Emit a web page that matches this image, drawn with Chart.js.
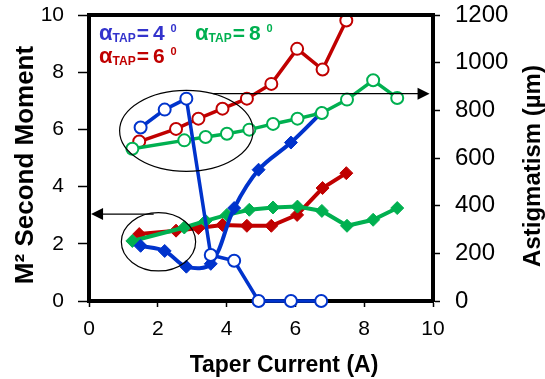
<!DOCTYPE html>
<html>
<head>
<meta charset="utf-8">
<script src="https://cdn.jsdelivr.net/npm/chart.js@4.4.1/dist/chart.umd.min.js"></script>
<style>
  html, body { margin: 0; padding: 0; background: #fff; }
</style>
</head>
<body>
<canvas id="chart" width="545" height="379"></canvas>
<script>
// taper current (A) for each series
const blueX  = [1.5, 2.2, 2.83, 3.54, 4.22, 4.93, 5.87, 6.75];
const redX   = [1.46, 2.53, 3.18, 3.88, 4.59, 5.3, 6.05, 6.79, 7.48];
const greenX = [1.26, 2.77, 3.39, 4.01, 4.66, 5.35, 6.06, 6.77, 7.5, 8.26, 8.96];

// M2 second moment (left axis, filled diamonds)
const blueM2  = [1.93, 1.75, 1.2, 1.3, 3.25, 4.59, 5.54, 6.58];
const redM2   = [2.34, 2.46, 2.55, 2.66, 2.63, 2.63, 3.01, 3.95, 4.47];
const greenM2 = [2.1, 2.57, 2.8, 3.01, 3.19, 3.27, 3.3, 3.15, 2.63, 2.84, 3.25];

// astigmatism in um (right axis, open circles)
const blueAstig  = [728, 803, 849, 193, 169, 0, 0, 0];
const redAstig   = [669, 722, 765, 807, 849, 911, 1058, 971, 1177];
const greenAstig = [639, 674, 688, 702, 719, 743, 765, 789, 845, 926, 852];

const labels = [
  { text: '4', color: '#3333cc', x: 99, y: 40 },
  { text: '8', color: '#00b050', x: 195, y: 40 },
  { text: '6', color: '#c00000', x: 99, y: 63 }
];

const BLUE = '#0033cc', RED = '#c00000', GREEN = '#00b050';
const FONT = "'Liberation Sans', Arial, sans-serif";

function pts(xs, ys) {
  return xs.map((x, i) => ({ x: x, y: ys[i] }));
}

function circles(xs, ys, color) {
  return {
    data: pts(xs, ys), yAxisID: 'yR',
    borderColor: color, backgroundColor: '#fff', borderWidth: 3.5,
    pointStyle: 'circle', pointRadius: 6, pointBorderWidth: 2,
    pointBackgroundColor: '#fff', pointBorderColor: color,
    tension: 0, clip: false
  };
}
function diamonds(xs, ys, color, tension) {
  return {
    data: pts(xs, ys), yAxisID: 'yL',
    borderColor: color, backgroundColor: color, borderWidth: 4,
    pointStyle: 'rectRot', pointRadius: 6.5, pointBorderWidth: 1,
    pointBackgroundColor: color, pointBorderColor: color,
    tension: tension, clip: false
  };
}

// circles around groups and arrows pointing at their axis (data units)
const ellipses = [
  { x: 2.83, y: 714, rx: 1.94, ry: 170, axis: 'yR' },
  { x: 2.02, y: 2.07, rx: 1.08, ry: 1.02, axis: 'yL' }
];
const arrows = [
  { x0: 3.61, x1: 9.9, y: 870, axis: 'yR' },
  { x0: 1.88, x1: 0.06, y: 3.04, axis: 'yL' }
];

function noPad(s) {
  s.paddingTop = 0;
  s.paddingBottom = 0;
}

const extras = {
  id: 'extras',
  afterDatasetsDraw(chart) {
    const { ctx, chartArea: a, scales } = chart;
    const sx = scales.x;
    ctx.save();
    ctx.strokeStyle = '#000';
    ctx.lineWidth = 4;
    ctx.beginPath();
    ctx.moveTo(a.left - 2, a.top);
    ctx.lineTo(a.right + 2, a.top);
    ctx.stroke();

    ctx.lineWidth = 1.2;
    ellipses.forEach(e => {
      const sy = scales[e.axis];
      const cx = sx.getPixelForValue(e.x), cy = sy.getPixelForValue(e.y);
      const rx = Math.abs(sx.getPixelForValue(e.x + e.rx) - cx);
      const ry = Math.abs(sy.getPixelForValue(e.y + e.ry) - cy);
      ctx.beginPath();
      ctx.ellipse(cx, cy, rx, ry, 0, 0, Math.PI * 2);
      ctx.stroke();
    });

    ctx.fillStyle = '#000';
    arrows.forEach(ar => {
      const sy = scales[ar.axis];
      const x0 = sx.getPixelForValue(ar.x0), x1 = sx.getPixelForValue(ar.x1);
      const y = sy.getPixelForValue(ar.y);
      const dir = x1 > x0 ? 1 : -1;
      ctx.beginPath();
      ctx.moveTo(x0, y);
      ctx.lineTo(x1 - dir * 10, y);
      ctx.stroke();
      ctx.beginPath();
      ctx.moveTo(x1, y);
      ctx.lineTo(x1 - dir * 12, y - 6);
      ctx.lineTo(x1 - dir * 12, y + 6);
      ctx.closePath();
      ctx.fill();
    });

    // alpha_TAP = n deg labels
    ctx.textAlign = 'left';
    ctx.textBaseline = 'alphabetic';
    labels.forEach(l => {
      ctx.fillStyle = l.color;
      let cx = l.x;
      ctx.font = 'bold 22px ' + FONT;
      ctx.fillText('\u03b1', cx, l.y);
      cx += ctx.measureText('\u03b1').width;
      ctx.font = 'bold 12px ' + FONT;
      ctx.fillText('TAP', cx, l.y + 2);
      cx += ctx.measureText('TAP').width + 1;
      ctx.font = 'bold 21px ' + FONT;
      ctx.fillText('=', cx, l.y);
      cx += ctx.measureText('=').width + 4;
      ctx.fillText(l.text, cx, l.y);
      cx += ctx.measureText(l.text).width + 6;
      ctx.font = 'bold 11px ' + FONT;
      ctx.fillText('0', cx, l.y - 8);
    });

    // axis titles
    ctx.fillStyle = '#000';
    ctx.textAlign = 'center';
    ctx.font = 'bold 23px ' + FONT;
    ctx.fillText('Taper Current (A)', 284, 372);

    ctx.save();
    ctx.translate(33, 165);
    ctx.rotate(-Math.PI / 2);
    ctx.font = 'bold 26px ' + FONT;
    ctx.fillText('M\u00b2 Second Moment', 0, 0);
    ctx.restore();

    ctx.save();
    ctx.translate(540, 166);
    ctx.rotate(-Math.PI / 2);
    ctx.font = 'bold 24px ' + FONT;
    ctx.fillText('Astigmatism (\u00b5m)', 0, 0);
    ctx.restore();

    ctx.restore();
  }
};

new Chart(document.getElementById('chart'), {
  type: 'line',
  data: {
    datasets: [
      circles(blueX, blueAstig, BLUE),
      circles(greenX, greenAstig, GREEN),
      circles(redX, redAstig, RED),
      diamonds(blueX, blueM2, BLUE, 0.35),
      diamonds(greenX, greenM2, GREEN, 0),
      diamonds(redX, redM2, RED, 0)
    ]
  },
  options: {
    responsive: false,
    animation: false,
    layout: { padding: { top: 15 } },
    plugins: { legend: { display: false }, tooltip: { enabled: false } },
    scales: {
      x: {
        type: 'linear', position: 'bottom', min: 0, max: 10,
        ticks: { stepSize: 2, color: '#000', padding: 10, font: { family: FONT, size: 21 } },
        grid: { drawOnChartArea: false, tickLength: 6, tickColor: '#000', tickWidth: 1.5 },
        border: { color: '#000', width: 4 },
        afterFit(s) { s.height = 78; s.paddingLeft = 0; s.paddingRight = 0; }
      },
      yL: {
        position: 'left', min: 0, max: 10,
        ticks: { stepSize: 2, color: '#000', padding: 14, font: { family: FONT, size: 21 } },
        grid: { drawOnChartArea: false, tickLength: 11, tickColor: '#000', tickWidth: 1.5 },
        border: { color: '#000', width: 4 },
        afterFit(s) { s.width = 89; noPad(s); }
      },
      yR: {
        position: 'right', min: 0, max: 1200,
        ticks: { stepSize: 200, color: '#000', padding: 15, font: { family: FONT, size: 24 },
                 callback: v => String(v) },
        grid: { drawOnChartArea: false, tickLength: 7, tickColor: '#000', tickWidth: 1.5 },
        border: { color: '#000', width: 4 },
        afterFit(s) { s.width = 112; noPad(s); }
      }
    }
  },
  plugins: [extras]
});
</script>
</body>
</html>
